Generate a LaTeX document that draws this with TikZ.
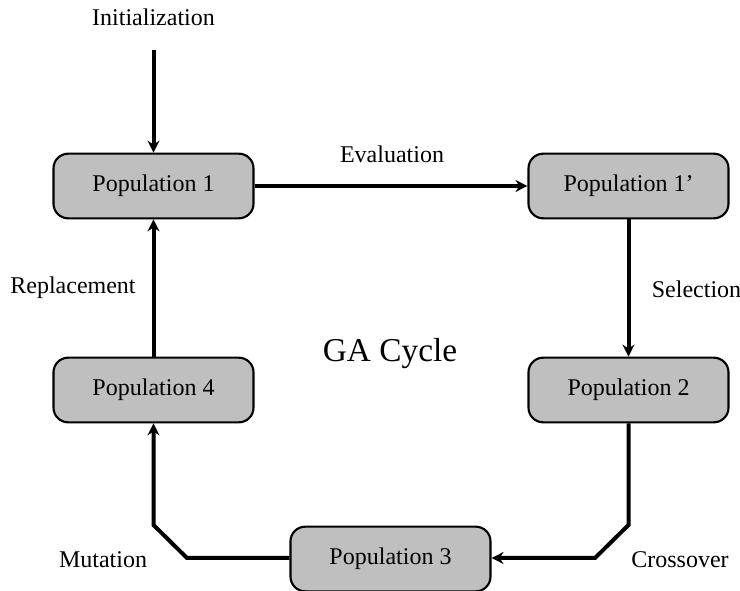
\documentclass[tikz,border=0pt]{standalone}
\usepackage{fontspec}
\setmainfont{Liberation Serif}
\usetikzlibrary{arrows.meta}
\begin{document}
\begin{tikzpicture}[x=0.75pt,y=-0.75pt,
  pop/.style={draw=black, line width=1.6pt, fill=black!25, rounded corners=11pt,
    minimum width=150pt, minimum height=48.5pt, inner sep=0pt,
    font=\fontsize{18}{21}\selectfont},
  flow/.style={line width=3pt, line join=miter,
    -{Stealth[length=9pt,width=9pt,inset=3pt]}},
  lbl/.style={font=\fontsize{18}{21}\selectfont, inner sep=0pt}]
  \useasboundingbox (0,0) rectangle (740,591);
  % population boxes
  \node[pop] (p1)  at (153.5,186) {Population 1};
  \node[pop] (p1b) at (628.5,186) {Population 1'};
  \node[pop] (p2)  at (628.5,390) {Population 2};
  \node[pop] (p4)  at (153.5,390) {Population 4};
  \node[pop] (p3)  at (390.5,559) {Population 3};
  % bends of the lower connectors
  \coordinate (start) at (153.5,50);
  \coordinate (c1) at (628.5,525);
  \coordinate (c2) at (595,558);
  \coordinate (m1) at (187,558);
  \coordinate (m2) at (153.5,525);
  % connectors
  \draw[flow] (start) -- (p1.north);
  \draw[flow] (p1.east) -- (p1b.west);
  \draw[flow] (p1b.south) -- (p2.north);
  \draw[flow] (p2.south) -- (c1) -- (c2) -- (p3.east |- c2);
  \draw[flow] (p3.west |- m1) -- (m1) -- (m2) -- (p4.south);
  \draw[flow] (p4.north) -- (p1.south);
  % labels
  \node[lbl] (linit) at (153.5,17) {Initialization};
  \node[lbl] (leval) at (392,154) {Evaluation};
  \node[lbl] (lsel)  at (696.5,289) {Selection};
  \node[lbl] (lcross) at (680,560) {Crossover};
  \node[lbl] (lmut)  at (103,560) {Mutation};
  \node[lbl] (lrep)  at (73,288) {Replacement};
  \node[font=\fontsize{25}{28}\selectfont, inner sep=0pt] (title) at (390,354) {GA Cycle};
\end{tikzpicture}
\end{document}
